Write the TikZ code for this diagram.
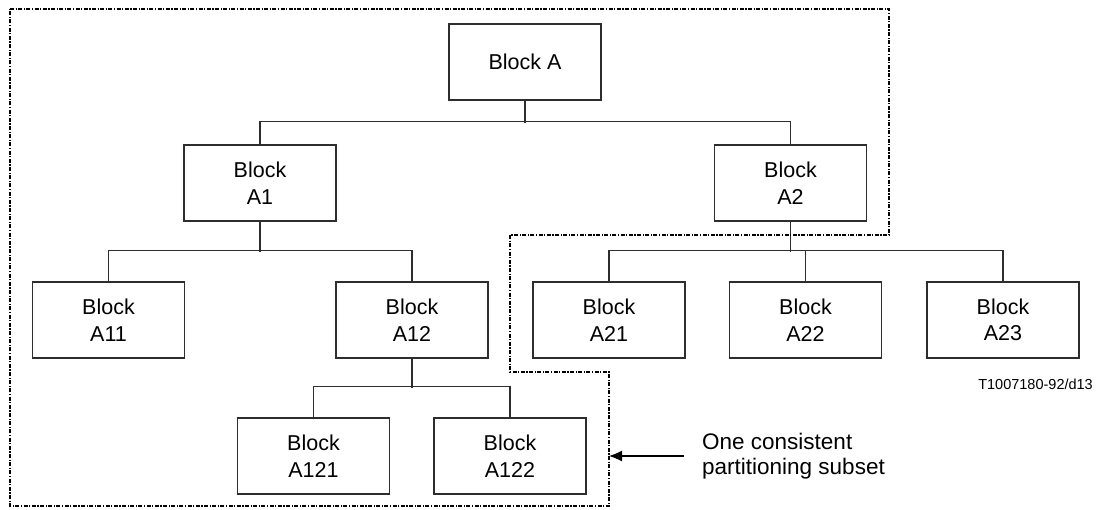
\documentclass[tikz,border=0pt]{standalone}
\usepackage{fontspec}
\setmainfont{Liberation Sans}
\usetikzlibrary{arrows.meta}
\definecolor{ln}{RGB}{45,45,45}
\begin{document}
\begin{tikzpicture}[x=1pt,y=-1pt,
  blk/.style={draw=ln, line width=1.3pt, minimum width=152pt, minimum height=76pt,
    align=center, inner sep=0pt, font=\fontsize{21.5}{26.5}\selectfont},
  conn/.style={draw=ln, line width=1.2pt},
  thick conn/.style={draw=ln, line width=1.9pt},
  partition/.style={draw=black, line width=1.2pt, dash pattern=on 4pt off 1.5pt on 1.2pt off 1.5pt},
  pointer/.style={draw=black, line width=1.1pt, -{Latex[length=13pt,width=11pt]}}
]
\useasboundingbox (0,0) rectangle (1103,509);

% blocks
\node[blk] (A)    at (525,62)   {Block A};
\node[blk] (A1)   at (260,183)  {Block\\A1};
\node[blk] (A2)   at (790.5,183){Block\\A2};
\node[blk] (A11)  at (108.5,320){Block\\A11};
\node[blk] (A12)  at (412,320)  {Block\\A12};
\node[blk] (A121) at (313.5,456){Block\\A121};
\node[blk] (A122) at (510,456)  {Block\\A122};
\node[blk] (A21)  at (609,320)  {Block\\A21};
\node[blk] (A22)  at (805.5,320){Block\\A22};
\node[blk] (A23)  at (1003,320) {Block\\A23};

% tree connectors
\draw[thick conn] (A.south) -- ++(0,22);
\draw[conn] (A1.north) -- ++(0,-23) -| (A2.north);

\draw[conn] (A1.south) -- ++(0,30);
\draw[conn] (A11.north) -- ++(0,-31) -| (A12.north);

\draw[conn] (A12.south) -- ++(0,29);
\draw[conn] (A121.north) -- ++(0,-31) -| (A122.north);

\draw[conn] (A2.south) -- ++(0,30);
\draw[conn] (A21.north) -- ++(0,-31) -| (A23.north);
\draw[thick conn] (A22.north) -- ++(0,-31);

% partitioning subset outline
\draw[partition] (10,9) -- (889,9) -- (889,235) -- (510,235) -- (510,372)
  -- (609,372) -- (609,506) -- (10,506) -- cycle;

% annotation
\coordinate (tip) at (609,456);
\node[anchor=west, align=left, inner xsep=18pt, inner ysep=0pt,
  font=\fontsize{22.5}{25}\selectfont] (note) at (684,456)
  {One consistent\\partitioning subset};
\draw[pointer] (note.west) -- (tip);

\node[anchor=east, inner sep=0pt, font=\fontsize{14.5}{17}\selectfont] (ref) at (1093,384)
  {T1007180-92/d13};
\end{tikzpicture}
\end{document}
